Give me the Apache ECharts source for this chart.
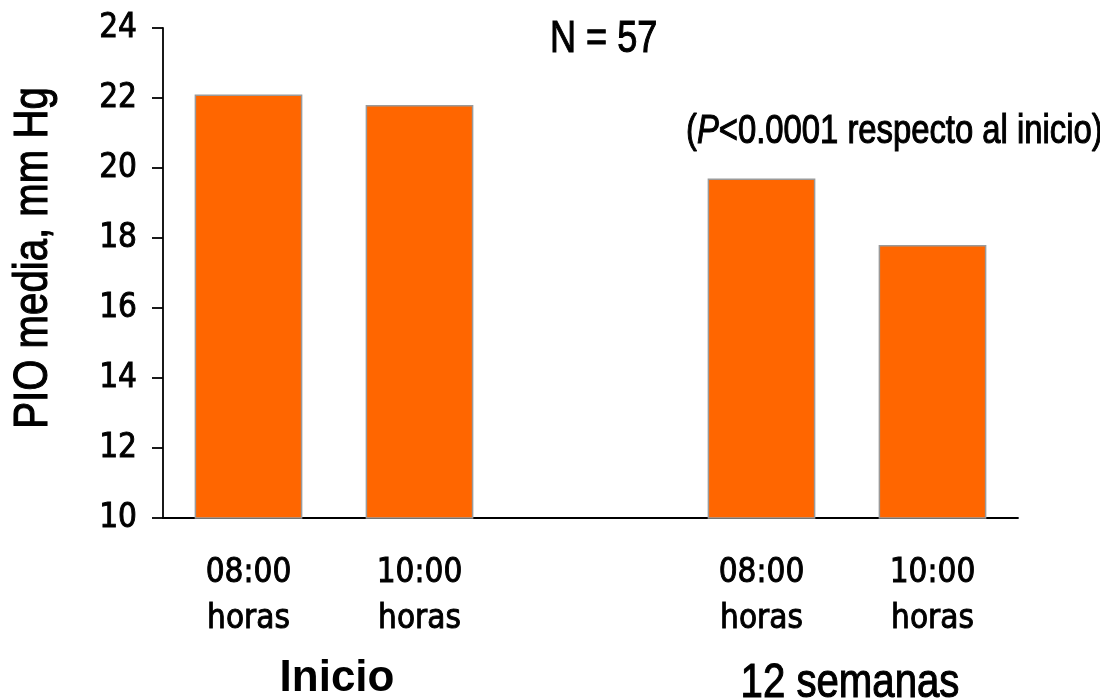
<!DOCTYPE html>
<html>
<head>
<meta charset="utf-8">
<script src="https://cdn.jsdelivr.net/npm/echarts@6/dist/echarts.min.js"></script>
<style>
  html, body { margin: 0; padding: 0; background: #fff; }
  #chart { width: 1100px; height: 700px; }
</style>
</head>
<body>
<div id="chart"></div>
<script>
// Mean IOP at two times of day, at baseline and after 12 weeks
const categories = ['08:00\nhoras', '10:00\nhoras', '', '08:00\nhoras', '10:00\nhoras'];
const values = [22.1, 21.8, null, 19.7, 17.8];
const yTicks = { min: 10, max: 24, interval: 2 };
const groups = [
  { label: 'Inicio', from: 0, to: 1, bold: true },
  { label: '12 semanas', from: 3, to: 4, bold: false }
];
const yTitle = 'PIO media, mm Hg';
const nText = 'N = 57';

const TICK_FONT = "'DejaVu Sans Condensed', 'Liberation Sans Narrow', sans-serif";
const SANS = "'Liberation Sans', Arial, sans-serif";
const NARROW = 0.82; // horizontal squeeze giving a narrow sans face
const HEAVY = { stroke: '#000', lineWidth: 1.1 }; // emboldening of the regular face

const chart = echarts.init(document.getElementById('chart'), null, { renderer: 'canvas' });

chart.setOption({
  backgroundColor: '#fff',
  animation: false,
  grid: { left: 163, right: 82, top: 28, bottom: 182, containLabel: false },
  xAxis: {
    type: 'category',
    data: categories,
    axisLine: { lineStyle: { color: '#000', width: 1.8 } },
    axisTick: { length: 12, lineStyle: { color: '#000', width: 1.8 } },
    axisLabel: {
      margin: 32, color: '#000', fontFamily: TICK_FONT, fontWeight: 'normal',
      fontSize: 33, lineHeight: 46, interval: 0,
      textBorderColor: '#000', textBorderWidth: 0.9
    }
  },
  yAxis: {
    type: 'value',
    min: yTicks.min, max: yTicks.max, interval: yTicks.interval,
    axisLine: { show: true, lineStyle: { color: '#000', width: 1.8 } },
    axisTick: { show: true, length: 11, lineStyle: { color: '#000', width: 1.8 } },
    splitLine: { show: false },
    axisLabel: {
      margin: 26, color: '#000', fontFamily: TICK_FONT, fontWeight: 'normal', fontSize: 33,
      textBorderColor: '#000', textBorderWidth: 0.9
    }
  },
  series: [{
    type: 'bar',
    data: values,
    barWidth: '63%',
    itemStyle: { color: '#FF6600', borderColor: '#9a9a9a', borderWidth: 1.5 }
  }]
});

// Texts set in a squeezed sans face; group captions sit on the category boundaries
const graphics = [
  {
    type: 'text', x: 33, y: 258, rotation: Math.PI / 2, scaleX: NARROW,
    style: Object.assign({ text: yTitle, font: '49px ' + SANS, fill: '#000', align: 'center', verticalAlign: 'middle' }, HEAVY)
  },
  {
    type: 'text', x: 550, y: 40, scaleX: NARROW,
    style: Object.assign({ text: nText, font: '44px ' + SANS, fill: '#000', align: 'left', verticalAlign: 'middle' }, HEAVY)
  },
  {
    type: 'text', x: 686, y: 132, scaleX: NARROW,
    style: Object.assign({
      text: '({i|P}<0.0001 respecto al inicio)',
      font: '40px ' + SANS, fill: '#000', align: 'left', verticalAlign: 'middle',
      rich: { i: { fontStyle: 'italic', fontSize: 40, fontFamily: SANS, fill: '#000' } }
    }, HEAVY)
  }
];
groups.forEach(g => {
  const a = chart.convertToPixel({ xAxisIndex: 0 }, g.from);
  const b = chart.convertToPixel({ xAxisIndex: 0 }, g.to);
  graphics.push({
    type: 'text', x: (a + b) / 2 + 3, y: g.bold ? 679 : 683, scaleX: g.bold ? 1 : NARROW,
    style: Object.assign({
      text: g.label, font: (g.bold ? 'bold 44px ' : '49px ') + SANS,
      fill: '#000', align: 'center', verticalAlign: 'middle'
    }, g.bold ? {} : HEAVY)
  });
});
chart.setOption({ graphic: graphics });
</script>
</body>
</html>
